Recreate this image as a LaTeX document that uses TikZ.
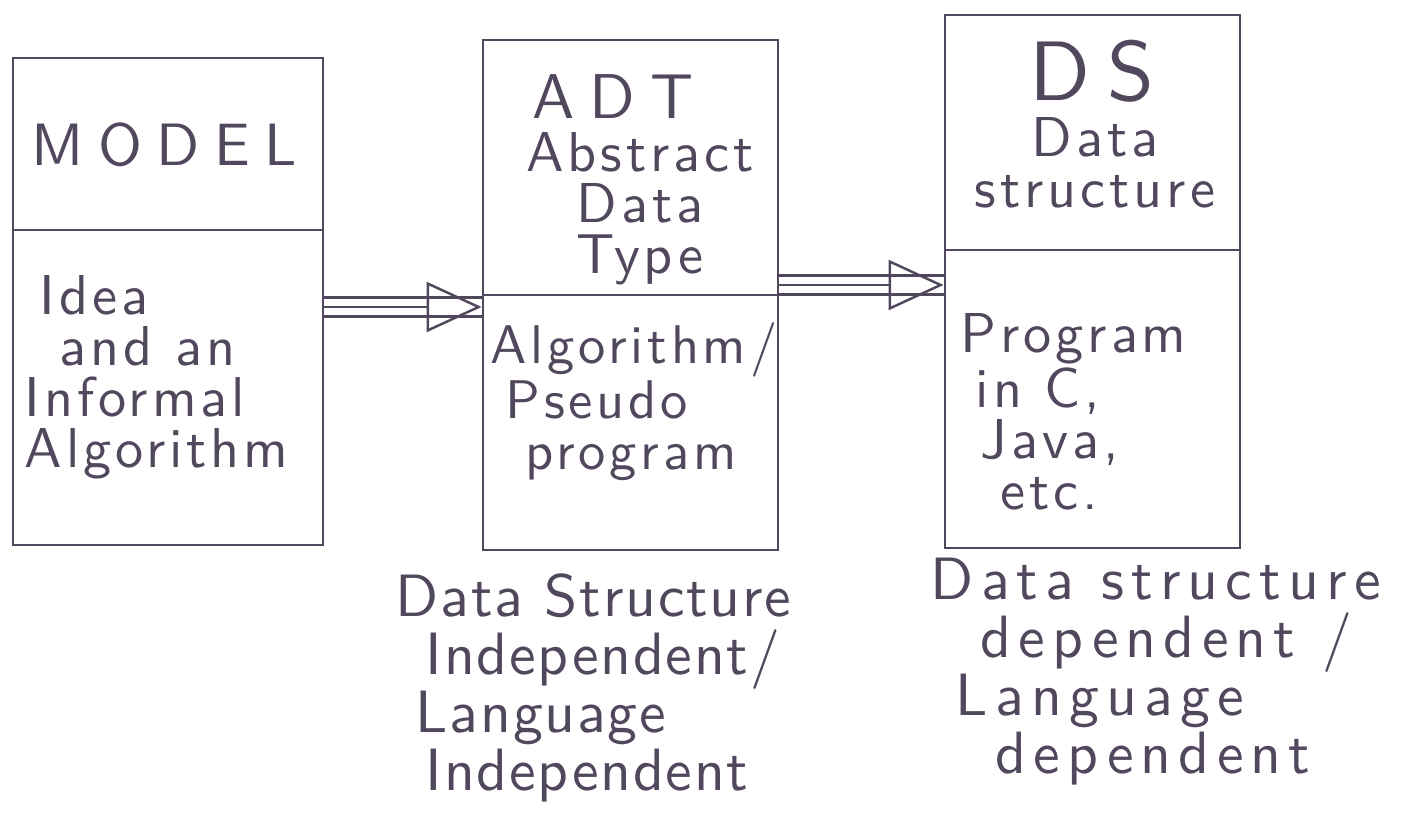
\documentclass[tikz,border=0pt]{standalone}
\usepackage{fontspec}
\newfontfamily\handfont[LetterSpace=7]{lmsans10-regular.otf}
\newfontfamily\titlefont[LetterSpace=24]{lmsans10-regular.otf}
\newfontfamily\dsfont[LetterSpace=20]{lmsans10-regular.otf}
\newfontfamily\notefont[LetterSpace=3]{lmsans10-regular.otf}
\newfontfamily\widenotefont[LetterSpace=12]{lmsans10-regular.otf}
\usetikzlibrary{arrows.meta,positioning,calc}
\definecolor{ink}{RGB}{82,72,94}

\begin{document}
\begin{tikzpicture}[
    box/.style={draw=ink, line width=0.8pt, inner sep=0pt},
    divider/.style={draw=ink, line width=0.8pt},
    arrowshaft/.style={draw=ink, line width=0.8pt, double=white, double distance=0.16cm},
    arrowhead/.style={draw=ink, line width=0.7pt, -{Triangle[open, length=0.55cm, width=0.5cm]}},
    title/.style={text=ink, inner sep=0pt, font=\titlefont\fontsize{17}{17}\selectfont},
    hand/.style={text=ink, inner sep=0pt, font=\handfont\fontsize{16}{14.5}\selectfont},
    note/.style={text=ink, inner sep=0pt, align=left, font=\notefont\fontsize{17}{16.5}\selectfont}
]
\useasboundingbox (0,0) rectangle (14.13,8.31);

% the three boxes
\node[box, minimum width=3.10cm, minimum height=4.87cm] (model) at (1.68,5.295) {};
\node[box, minimum width=2.95cm, minimum height=5.10cm] (adt) at (6.305,5.36) {};
\node[box, minimum width=2.95cm, minimum height=5.33cm] (ds) at (10.925,5.495) {};

\draw[divider] (model.west |- 0,6.01) -- (model.east |- 0,6.01);
\draw[divider] (adt.west |- 0,5.36) -- (adt.east |- 0,5.36);
\draw[divider] (ds.west |- 0,5.81) -- (ds.east |- 0,5.81);

% arrows between the boxes
\draw[arrowshaft] (model.east |- 0,5.24) -- (adt.west |- 0,5.24);
\draw[arrowhead] (model.east |- 0,5.24) -- (adt.west |- 0,5.24);
\draw[arrowshaft] (adt.east |- 0,5.46) -- (ds.west |- 0,5.46);
\draw[arrowhead] (adt.east |- 0,5.46) -- (ds.west |- 0,5.46);

% box texts
\node[title] (modeltxt) at (1.64,6.86) {MODEL};
\node[hand, anchor=north west, align=left] (idea) at (0.24,5.56)
    {\hspace{0.15cm}Idea\\\hspace{0.35cm}and an\\Informal\\Algorithm};

\node[title, font=\titlefont\fontsize{18}{18}\selectfont] (adttxt) at (6.13,7.34) {ADT};
\node[hand, anchor=north, align=center] (adtname) at (6.40,6.99)
    {Abstract\\Data\\Type};
\node[hand, anchor=north west, align=left, font=\handfont\fontsize{15.5}{14.5}\selectfont] (algo) at (4.90,5.09)
    {Algorithm/\\\hspace{0.15cm}Pseudo\\\hspace{0.35cm}program};

\node[title, font=\dsfont\fontsize{24}{24}\selectfont] (dstxt) at (10.92,7.60) {DS};
\node[hand, anchor=north, align=center] (dsname) at (10.95,7.14)
    {Data\\structure};
\node[hand, anchor=north west, align=left] (prog) at (9.60,5.18)
    {Program\\\hspace{0.15cm}in C,\\\hspace{0.2cm}Java,\\\hspace{0.4cm}etc.};

% notes under the boxes
\node[note, anchor=north west] (indep) at (3.95,2.58)
    {Data Structure\\\hspace{0.3cm}Independent/\\\hspace{0.2cm}Language\\\hspace{0.3cm}Independent};
\node[note, anchor=north west, font=\widenotefont\fontsize{17}{16.5}\selectfont] (dep) at (9.30,2.74)
    {Data structure\\\hspace{0.5cm}dependent /\\\hspace{0.25cm}Language\\\hspace{0.65cm}dependent};
\end{tikzpicture}
\end{document}
